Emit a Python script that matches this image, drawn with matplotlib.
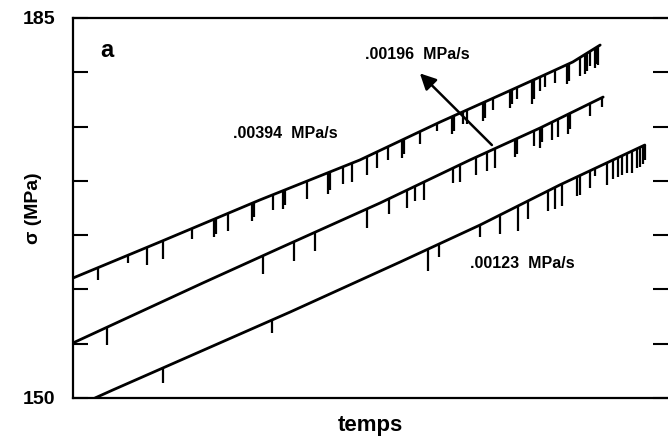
import matplotlib
matplotlib.use("Agg")
import matplotlib.pyplot as plt
import numpy as np

plt.rcParams['font.family'] = ['Liberation Sans', 'DejaVu Sans']

# base curves (temps in arbitrary units, sigma in MPa)
top_t = [0.0, 14.6, 31.4, 48.2, 61.7, 72.9, 78.5, 84.0, 88.6]
top_s = [161.05, 164.37, 168.24, 171.92, 175.42, 178.18, 179.57, 180.95, 182.51]

mid_t = [0.0, 21.8, 34.8, 51.6, 66.7, 78.5, 89.1]
mid_s = [155.07, 160.59, 163.82, 167.96, 171.92, 174.87, 177.72]

bot_t = [3.7, 6.7, 36.5, 55.0, 68.4, 81.8, 96.1]
bot_s = [150.0, 150.74, 157.92, 162.53, 165.93, 169.62, 173.30]

# serrations: position and depth of the stress drops (MPa)
top_drop_t = [4.2, 9.2, 12.4, 15.1, 20.0, 23.7, 24.0, 26.1, 30.1, 30.4,
              33.6, 35.3, 35.6, 39.3, 42.9, 43.2, 45.4, 46.9, 49.4, 51.1,
              52.9, 55.3, 55.6, 58.3, 61.2, 63.7, 64.0, 65.5, 66.2, 68.9,
              69.2, 70.6, 73.4, 73.7, 74.6, 77.1, 77.4, 78.5, 79.3, 81.0,
              83.0, 83.3, 85.2, 86.1, 86.4, 86.9, 87.7, 88.0, 88.2]
top_drop_d = [1.1, 0.7, 1.6, 1.7, 1.0, 1.6, 1.4, 1.6, 1.6, 1.3,
              1.4, 1.7, 1.4, 1.6, 2.0, 1.7, 1.6, 1.7, 1.7, 1.5,
              1.2, 1.7, 1.4, 1.1, 0.7, 1.6, 1.4, 1.1, 1.3, 1.7,
              1.5, 1.1, 1.6, 1.3, 1.1, 2.1, 1.8, 1.3, 1.1, 1.2,
              1.8, 1.6, 1.7, 1.8, 1.6, 1.4, 1.8, 1.5, 1.7]

mid_drop_t = [5.7, 31.9, 37.1, 40.7, 49.4, 53.1, 56.1, 57.5, 59.0, 63.9,
              65.0, 67.7, 69.6, 70.9, 74.3, 74.6, 77.5, 78.5, 78.8, 80.5,
              81.5, 83.2, 83.5, 86.9, 88.9]
mid_drop_d = [1.6, 1.7, 1.8, 1.7, 1.8, 1.4, 1.6, 1.4, 1.7, 1.4,
              1.6, 1.6, 1.7, 1.8, 1.6, 1.4, 1.4, 1.8, 1.4, 1.6,
              1.6, 1.8, 1.4, 1.2, 0.9]

bot_drop_t = [15.1, 33.4, 59.7, 61.5, 68.4, 71.8, 74.8, 76.5, 79.8, 81.0,
              82.2, 84.7, 85.2, 86.9, 87.7, 89.7, 90.8, 91.6, 92.3, 93.1,
              94.0, 94.8, 95.3, 95.8, 96.1]
bot_drop_d = [1.4, 1.2, 2.0, 1.2, 1.1, 1.8, 2.3, 1.7, 1.8, 2.0,
              2.0, 1.8, 1.8, 1.6, 0.7, 2.0, 1.8, 1.8, 1.8, 1.8,
              2.0, 1.8, 1.8, 1.7, 1.4]

rate_labels = ['.00394  MPa/s', '.00196  MPa/s', '.00123  MPa/s']

fig = plt.figure(figsize=(6.68, 4.38), dpi=100)
ax = fig.add_axes([73/668, 40/438, 595/668, 380/438])

curves = [(top_t, top_s, top_drop_t, top_drop_d),
          (mid_t, mid_s, mid_drop_t, mid_drop_d),
          (bot_t, bot_s, bot_drop_t, bot_drop_d)]

for t, s, dt, dd in curves:
    ax.plot(t, s, color='black', lw=2.0, solid_capstyle='round',
            solid_joinstyle='round')
    # drops hang below the curve
    base = np.interp(dt, t, s)
    ax.vlines(dt, base - np.array(dd), base, color='black', lw=1.6)

ax.set_xlim(0, 100)
ax.set_ylim(150, 185)
ax.set_xticks([])
ax.set_yticks(np.arange(150, 186, 5))
ax.set_yticklabels(['150', '', '', '', '', '', '', '185'])
ax.tick_params(axis='y', direction='in', length=11, width=1.5,
               right=True, pad=13, labelsize=14)
for lab in ax.get_yticklabels():
    lab.set_fontweight('bold')

for side in ['left', 'bottom', 'top']:
    ax.spines[side].set_linewidth(1.6)
ax.spines['right'].set_visible(False)

ax.set_ylabel('σ (MPa)', fontsize=14, fontweight='bold')
ax.yaxis.set_label_coords(-0.052, 0.5)
ax.set_xlabel('temps', fontsize=16, fontweight='bold')
ax.xaxis.set_label_coords(0.5, -0.045)

ax.text(4.5, 182.0, 'a', fontsize=17, fontweight='bold', va='center')
ax.text(26.9, 174.4, rate_labels[0], fontsize=11.5, fontweight='bold', va='center')
ax.text(49.1, 181.6, rate_labels[1], fontsize=11.5, fontweight='bold', va='center')
ax.text(66.7, 162.4, rate_labels[2], fontsize=11.5, fontweight='bold', va='center')

ax.annotate('', xy=(58.3, 179.9), xytext=(70.4, 173.3),
            arrowprops=dict(arrowstyle='-|>', color='black', lw=1.8,
                            mutation_scale=24, shrinkA=0, shrinkB=0))

fig.savefig('out.png', dpi=100)
